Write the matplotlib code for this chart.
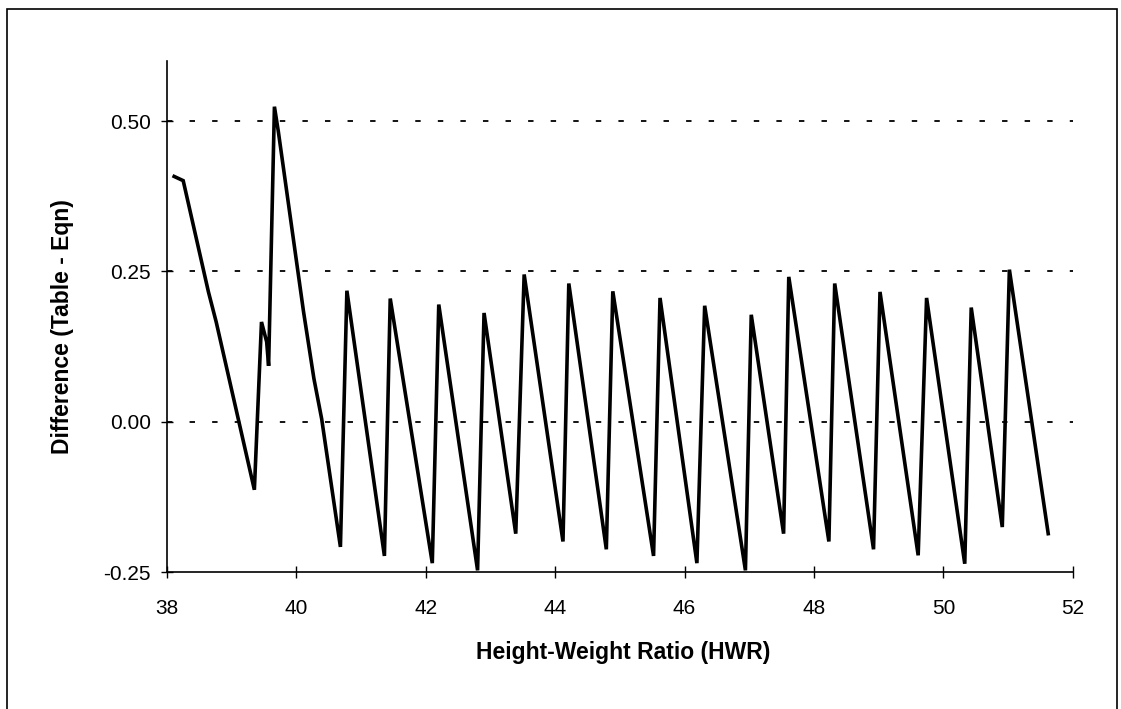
import matplotlib
matplotlib.use("Agg")
import matplotlib.pyplot as plt
from matplotlib.patches import Rectangle

# HWR vs difference (Table - Eqn)
hwr = [38.11, 38.25, 38.64, 38.76, 39.35, 39.46, 39.54, 39.57, 39.66, 39.72,
       40.11, 40.27, 40.39,
       40.68, 40.78, 41.36, 41.45, 42.10, 42.20, 42.80, 42.90,
       43.39, 43.52, 44.12, 44.21, 44.79, 44.89, 45.52, 45.62,
       46.19, 46.31, 46.94, 47.03, 47.53, 47.61, 48.23, 48.32,
       48.92, 49.02, 49.61, 49.74, 50.33, 50.43, 50.91, 51.02, 51.62]
diff = [0.408, 0.401, 0.216, 0.166, -0.113, 0.166, 0.133, 0.093, 0.524, 0.483,
        0.183, 0.072, 0.005,
        -0.208, 0.218, -0.223, 0.205, -0.235, 0.195, -0.247, 0.181,
        -0.186, 0.245, -0.199, 0.230, -0.212, 0.217, -0.223, 0.206,
        -0.235, 0.193, -0.247, 0.178, -0.186, 0.241, -0.199, 0.230,
        -0.212, 0.216, -0.222, 0.206, -0.236, 0.190, -0.175, 0.253, -0.186]

x_ticks = [38, 40, 42, 44, 46, 48, 50, 52]
y_ticks = [-0.25, 0.00, 0.25, 0.50]
grid_levels = [0.00, 0.25, 0.50]

plt.rcParams["font.family"] = ["Liberation Sans", "DejaVu Sans"]

fig = plt.figure(figsize=(11.21, 7.09), dpi=100)
ax = fig.add_axes([0.149, 0.193, 0.808, 0.721])

# outer frame around the whole chart
fig.patches.append(Rectangle((0.006, -0.02), 0.990, 1.008, transform=fig.transFigure,
                             fill=False, edgecolor="black", linewidth=1.2))

ax.hlines(grid_levels, 38, 52, colors="black", linestyles=(0, (3, 9.5)), linewidth=1.3)
ax.plot(hwr, diff, color="black", linewidth=2.6, solid_joinstyle="miter")

ax.set_xlim(38, 52)
ax.set_ylim(-0.25, 0.60)
ax.set_xticks(x_ticks)
ax.set_yticks(y_ticks)
ax.set_yticklabels([f"{v:.2f}" for v in y_ticks])
ax.tick_params(direction="inout", length=9, width=1, labelsize=15, pad=7)
ax.tick_params(axis="x", pad=15)
for side in ["top", "right"]:
    ax.spines[side].set_visible(False)
for side in ["left", "bottom"]:
    ax.spines[side].set_linewidth(1.2)

fig.text(0.556, 0.080, "Height-Weight Ratio (HWR)", ha="center", va="center",
         fontsize=16.5, fontweight="bold")
fig.text(0.056, 0.539, "Difference (Table - Eqn)", ha="center", va="center",
         rotation=90, fontsize=16.5, fontweight="bold")

plt.savefig("out.png", dpi=100)
plt.close()
